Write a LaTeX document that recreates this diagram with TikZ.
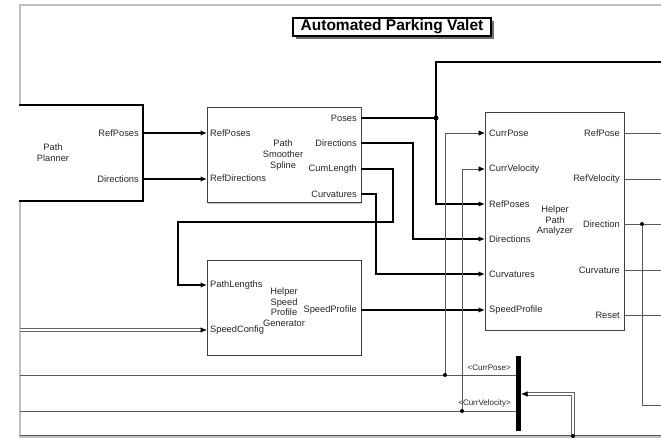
\documentclass[tikz,border=0pt]{standalone}
\usepackage{fontspec}
\setmainfont{Liberation Sans}
\usetikzlibrary{arrows.meta,shadows,calc}

\tikzset{
  block/.style={draw=black!75, line width=1pt, fill=white, inner sep=0pt, outer sep=0pt,
    drop shadow={shadow xshift=1.3pt, shadow yshift=-1.3pt, fill=black!40, opacity=0.6}},
  refblock/.style={draw=black, line width=2.2pt, fill=white, inner sep=0pt, outer sep=0pt},
  lbl/.style={font=\fontsize{9.3}{10}\selectfont, inner sep=0pt, text=black!85},
  inlbl/.style={lbl, anchor=west},
  outlbl/.style={lbl, anchor=east},
  blockname/.style={font=\fontsize{9.3}{11.3}\selectfont, inner sep=0pt, align=center, text=black!85},
  tip/.style={-{Latex[length=6.5pt,width=5.5pt,color=black]}},
  busline/.style={line width=2pt, draw=black},
  bus/.style={busline, tip},
  sig/.style={line width=0.9pt, draw=black!65},
  sigarrow/.style={sig, tip},
  dbl/.style={draw=black!60, line width=3.6pt, postaction={draw=white, line width=1.3pt}},
  dot/.style={circle, fill=black, inner sep=0pt, minimum size=4pt},
  frameline/.style={draw=black!25, line width=1.5pt},
  titlebox/.style={draw=black, line width=1.3pt, fill=white, inner sep=0pt,
    minimum width=198pt, minimum height=18pt, font=\bfseries\fontsize{15.5}{16}\selectfont,
    drop shadow={shadow xshift=3pt, shadow yshift=-3pt, fill=black!70, opacity=0.8}}
}

\begin{document}
\begin{tikzpicture}[x=1pt, y=-1pt]
\useasboundingbox (0,0) rectangle (661,438);
\fill[white] (0,0) rectangle (661,438);

\begin{scope}
\clip (19,0) rectangle (661,438);

% model frame
\draw[frameline] (661,5) -- (20,5) -- (20,437) -- (661,437);

% title
\node[titlebox] (title) at (392,27) {Automated Parking Valet};

% ---------------- blocks ----------------
\node[refblock, minimum width=173pt, minimum height=96pt] (pp) at (56.5,153) {};
\node[blockname] (ppname) at (53,153) {Path\\Planner};
\node[outlbl] (ppl1) at (139,133) {RefPoses};
\node[outlbl] (ppl2) at (139,179) {Directions};

\node[block, minimum width=154pt, minimum height=95pt] (pss) at (284,155.5) {};
\node[blockname] (pssname) at (283,155) {Path\\Smoother\\Spline};
\node[inlbl] (pssl1) at (210,133) {RefPoses};
\node[inlbl] (pssl2) at (210,178) {RefDirections};
\node[outlbl] (pssl3) at (357,118) {Poses};
\node[outlbl] (pssl4) at (357,143) {Directions};
\node[outlbl] (pssl5) at (357,169) {CumLength};
\node[outlbl] (pssl6) at (357,194) {Curvatures};

\node[block, minimum width=154pt, minimum height=94pt] (spg) at (284,308) {};
\node[blockname, font=\fontsize{9.3}{10.5}\selectfont] (spgname) at (284,307) {Helper\\Speed\\Profile\\Generator};
\node[inlbl] (spgl1) at (210,285) {PathLengths};
\node[inlbl] (spgl2) at (210,330) {SpeedConfig};
\node[outlbl] (spgl3) at (357,310) {SpeedProfile};

\node[block, minimum width=139pt, minimum height=217pt] (hpa) at (554.5,221.5) {};
\node[blockname, font=\fontsize{9.3}{10.5}\selectfont] (hpaname) at (555,221) {Helper\\Path\\Analyzer};
\node[inlbl] (hpal1) at (489,133) {CurrPose};
\node[inlbl] (hpal2) at (489,169) {CurrVelocity};
\node[inlbl] (hpal3) at (489,204) {RefPoses};
\node[inlbl] (hpal4) at (489,239) {Directions};
\node[inlbl] (hpal5) at (489,274) {Curvatures};
\node[inlbl] (hpal6) at (489,310) {SpeedProfile};
\node[outlbl] (hpal7) at (620,133) {RefPose};
\node[outlbl] (hpal8) at (620,179) {RefVelocity};
\node[outlbl] (hpal9) at (620,224) {Direction};
\node[outlbl] (hpal10) at (620,270) {Curvature};
\node[outlbl] (hpal11) at (620,315) {Reset};

% bus selector
\node[fill=black, inner sep=0pt, minimum width=5pt, minimum height=75pt] (bsel) at (518.5,393.5) {};
\node[outlbl, font=\fontsize{8}{9}\selectfont] (bsl1) at (511,368) {<CurrPose>};
\node[outlbl, font=\fontsize{8}{9}\selectfont] (bsl2) at (511,403) {<CurrVelocity>};

% ---------------- ports ----------------
\coordinate (pp-o1) at (143,133);
\coordinate (pp-o2) at (143,179);
\coordinate (pss-i1) at (207,133);
\coordinate (pss-i2) at (207,179);
\coordinate (pss-o1) at (361,118);
\coordinate (pss-o2) at (361,143);
\coordinate (pss-o3) at (361,169);
\coordinate (pss-o4) at (361,194);
\coordinate (spg-i1) at (207,285);
\coordinate (spg-i2) at (207,330);
\coordinate (spg-o1) at (361,310);
\coordinate (hpa-i1) at (485,133);
\coordinate (hpa-i2) at (485,169);
\coordinate (hpa-i3) at (485,204);
\coordinate (hpa-i4) at (485,239);
\coordinate (hpa-i5) at (485,274);
\coordinate (hpa-i6) at (485,310);
\coordinate (hpa-o1) at (624,133);
\coordinate (hpa-o2) at (624,179);
\coordinate (hpa-o3) at (624,224);
\coordinate (hpa-o4) at (624,270);
\coordinate (hpa-o5) at (624,315);
\coordinate (bs-o1) at (516,375);
\coordinate (bs-o2) at (516,411);
\coordinate (bs-i) at (521,394);

% junctions and free ends
\coordinate (jposes) at (436,118);
\coordinate (jpose) at (445,375);
\coordinate (jvel) at (462,411);
\coordinate (jdir) at (642,224);
\coordinate (jbus) at (573,436);
\coordinate (e-top) at (661,62);
\coordinate (e-o1) at (661,133);
\coordinate (e-o2) at (661,179);
\coordinate (e-o3) at (661,224);
\coordinate (e-o4) at (661,270);
\coordinate (e-o5) at (661,315);
\coordinate (e-dir) at (661,405);
\coordinate (w-cfg) at (20,330);
\coordinate (w-pose) at (20,375);
\coordinate (w-vel) at (20,411);
\coordinate (w-bot) at (20,435.5);
\coordinate (e-bot) at (661,435.5);

% ---------------- connectors ----------------
\draw[bus] (pp-o1) -- (pss-i1);
\draw[bus] (pp-o2) -- (pss-i2);

\draw[busline] (pss-o1) -- (jposes);
\draw[busline] (jposes) |- (e-top);
\draw[bus] (jposes) |- (hpa-i3);
\draw[bus] (pss-o2) -- ++(52,0) |- (hpa-i4);
\draw[bus] (pss-o3) -| (393,222) -| (178,285) -- (spg-i1);
\draw[bus] (pss-o4) -- ++(15,0) |- (hpa-i5);
\draw[bus] (spg-o1) -- (hpa-i6);

\draw[dbl] (w-cfg) -- ($(spg-i2)+(-5,0)$);
\draw[sigarrow] ($(spg-i2)+(-6,0)$) -- (spg-i2);

\draw[sig] (bs-o1) -- (w-pose);
\draw[sig] (bs-o2) -- (w-vel);
\draw[sigarrow] (jpose) |- (hpa-i1);
\draw[sigarrow] (jvel) |- (hpa-i2);

\draw[sig] (w-bot) -- (e-bot);
\draw[dbl] (jbus) |- ($(bs-i)+(5,0)$);
\draw[sigarrow] ($(bs-i)+(6,0)$) -- (bs-i);

\draw[sig] (hpa-o1) -- (e-o1);
\draw[sig] (hpa-o2) -- (e-o2);
\draw[sig] (hpa-o3) -- (e-o3);
\draw[sig] (hpa-o4) -- (e-o4);
\draw[sig] (hpa-o5) -- (e-o5);
\draw[sig] (jdir) |- (e-dir);

\node[dot, minimum size=5pt] (d1) at (jposes) {};
\node[dot] (d2) at (jpose) {};
\node[dot] (d3) at (jvel) {};
\node[dot] (d4) at (jdir) {};
\node[dot] (d5) at (jbus) {};
\end{scope}
\end{tikzpicture}
\end{document}
